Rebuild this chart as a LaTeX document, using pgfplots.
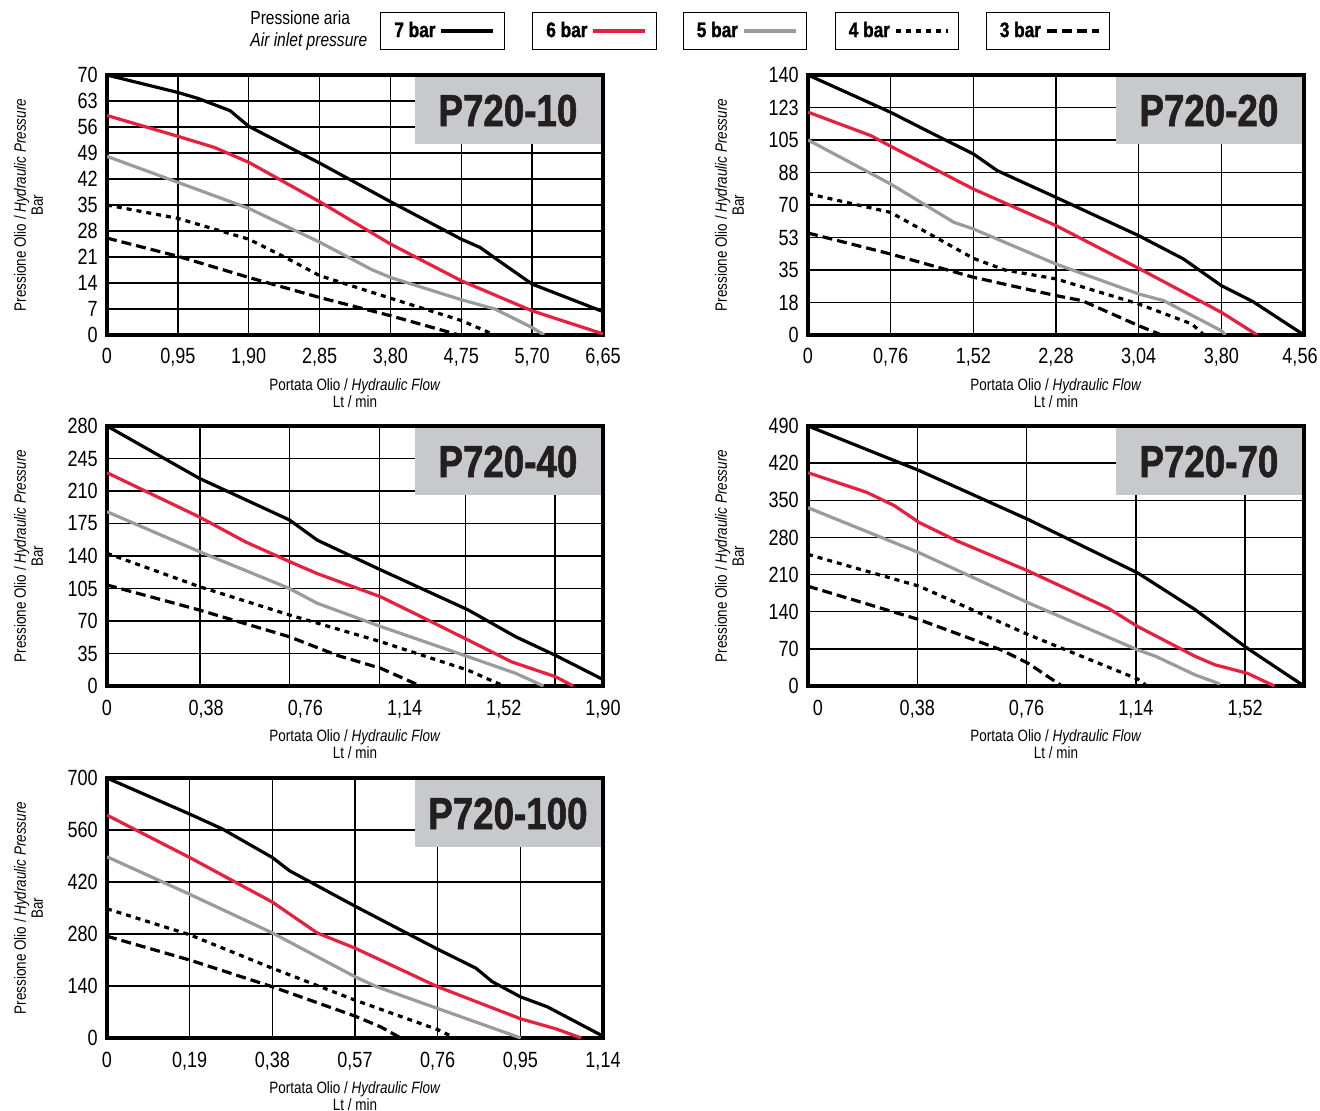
\documentclass[border=0pt]{standalone}
\usepackage{fontspec}
\setmainfont{Liberation Sans}[FakeStretch=0.82]
\newfontfamily\tagfont{Liberation Sans}[FakeStretch=0.82, BoldFeatures={FakeBold=1.3}]
\usepackage{pgfplots}
\pgfplotsset{compat=1.18}

\definecolor{redline}{RGB}{232,32,64}
\definecolor{grayline}{RGB}{155,155,155}
\definecolor{boxgray}{RGB}{200,201,202}
\definecolor{ink}{RGB}{35,31,32}

\tikzset{
  tag/.style={fill=boxgray, text=ink, anchor=north east, minimum width=93pt,
    minimum height=33.5pt, inner sep=0pt, font=\tagfont\bfseries\fontsize{22.4}{24}\selectfont},
}

% 1 px of the reference = 0.5pt
\pgfplotsset{
  s7/.style={black, line width=1.6pt},
  s6/.style={redline, line width=1.6pt},
  s5/.style={grayline, line width=1.6pt},
  s4/.style={black, line width=1.6pt, dash pattern=on 2.5pt off 2.5pt},
  s3/.style={black, line width=1.6pt, dash pattern=on 5pt off 2.5pt},
  pchart/.style={
    scale only axis, width=248pt, height=130pt, anchor=south west,
    xmin=0, ymin=0,
    axis line style={line width=1.7pt},
    grid=major,
    major grid style={black, line width=0.7pt},
    minor grid style={black, line width=0.7pt},
    major tick length=0pt, minor tick length=0pt,
    tick style={draw=none},
    /pgf/number format/assume math mode=true,
    ticklabel style={font=\fontsize{11}{12}\selectfont},
    xticklabel style={anchor=base, yshift=-14.5pt},
    yticklabel style={anchor=east, inner sep=0pt, xshift=-4.5pt},
    every axis x label/.style={at={(axis description cs:0.5,0)}, anchor=center,
      yshift=-29pt, align=center, font=\fontsize{8.2}{7.6}\selectfont},
    every axis y label/.style={at={(axis description cs:0,0.5)}, anchor=center,
      xshift=-39.25pt, rotate=90, align=center, font=\fontsize{8.2}{8.5}\selectfont},
    xlabel={Portata Olio / \textit{Hydraulic Flow}\\Lt / min},
    ylabel={Pressione Olio / \textit{Hydraulic Pressure}\\Bar},
  },
  legbox/.style={hide axis, scale only axis, width=2pt, height=2pt,
    xmin=0, xmax=1, ymin=0, ymax=1, anchor=center,
    legend plot pos=right,
    legend style={at={(0.5,0.5)}, anchor=center, draw=black, line width=0.6pt,
      inner xsep=4.75pt, inner ysep=2.85pt,
      font=\tagfont\bfseries\fontsize{10.5}{12}\selectfont},
  },
}

\begin{document}
\begin{tikzpicture}
\path[use as bounding box] (0,0) rectangle (660pt,-555.5pt);

\node[anchor=west, align=left, inner sep=0pt, font=\fontsize{9.5}{11}\selectfont]
  at (125pt,-15.5pt) {Pressione aria\\\textit{Air inlet pressure}};

\begin{axis}[legbox, at={(221.25pt,-15.5pt)},
  legend image code/.code={\draw[#1] (0pt,0pt) -- (26pt,0pt);}]
\addlegendimage{s7}\addlegendentry{7 bar}
\end{axis}
\begin{axis}[legbox, at={(297.25pt,-15.5pt)},
  legend image code/.code={\draw[#1] (0pt,0pt) -- (26pt,0pt);}]
\addlegendimage{s6}\addlegendentry{6 bar}
\end{axis}
\begin{axis}[legbox, at={(372.5pt,-15.5pt)},
  legend image code/.code={\draw[#1] (0pt,0pt) -- (26pt,0pt);}]
\addlegendimage{s5}\addlegendentry{5 bar}
\end{axis}
\begin{axis}[legbox, at={(448.5pt,-15.5pt)},
  legend image code/.code={\draw[#1] (0pt,0pt) -- (26pt,0pt);}]
\addlegendimage{s4}\addlegendentry{4 bar}
\end{axis}
\begin{axis}[legbox, at={(524pt,-15.5pt)},
  legend image code/.code={\draw[#1] (0pt,0pt) -- (26pt,0pt);}]
\addlegendimage{s3}\addlegendentry{3 bar}
\end{axis}

% P720-10
\begin{axis}[pchart, at={(53.5pt,-167.5pt)},
  xmax=6.65, ymax=70,
  xtick={0,0.95,1.9,2.85,3.8,4.75,5.7,6.65},
  xticklabels={0,{0,95},{1,90},{2,85},{3,80},{4,75},{5,70},{6,65}},
  ytick={0,7,14,21,28,35,42,49,56,63,70}]
\addplot[s7] coordinates {(0,70) (0.95,65.3) (1.22,63.7) (1.65,60.4) (1.90,56.2) (2.85,46.3) (3.80,35.9) (4.75,25.8) (5.0,23.6) (5.28,19.6) (5.70,13.7) (6.65,6.3)};
\addplot[s6] coordinates {(0,59.1) (0.95,53.5) (1.44,50.5) (1.90,46.5) (2.85,35.9) (3.80,24.5) (4.75,14.6) (5.70,6.5) (6.65,0.3)};
\addplot[s5] coordinates {(0,48.1) (0.95,41.1) (1.90,34.1) (2.85,25) (3.55,17.6) (3.80,15.5) (4.75,9.5) (5.2,7) (5.70,2) (5.86,0)};
\addplot[s4] coordinates {(0,35) (0.95,31.4) (1.90,25.8) (2.39,20.9) (2.85,16) (3.80,9.9) (4.75,3.9) (5.2,0)};
\addplot[s3] coordinates {(0,26.1) (0.95,21.2) (1.90,15.5) (2.85,10.1) (3.80,5.2) (4.72,0)};
\node[tag] at ([xshift=-0.85pt,yshift=-0.85pt]rel axis cs:1,1) {P720-10};
\end{axis}

% P720-20
\begin{axis}[pchart, at={(404pt,-167.5pt)},
  xmax=4.56, ymax=140,
  xtick={0,0.76,1.52,2.28,3.04,3.8,4.56},
  xticklabels={0,{0,76},{1,52},{2,28},{3,04},{3,80},{4,56\hspace*{4pt}}},
  ytick={0,17.5,35,52.5,70,87.5,105,122.5,140},
  yticklabels={0,18,35,53,70,88,105,123,140}]
\addplot[s7] coordinates {(0,140) (0.76,119.9) (1.16,108) (1.52,97.5) (1.74,88.5) (2.28,74.1) (3.04,53.5) (3.45,41) (3.80,26.6) (4.09,18) (4.56,0)};
\addplot[s6] coordinates {(0,120) (0.58,107.3) (0.76,101.6) (1.52,78.6) (2.28,58.9) (3.04,35.9) (3.80,12.2) (4.13,0)};
\addplot[s5] coordinates {(0,105) (0.76,81.3) (1.34,60.7) (1.52,57.1) (2.28,38.2) (3.04,22.1) (3.27,18.5) (3.80,2.3) (3.84,0)};
\addplot[s4] coordinates {(0,76.1) (0.76,66) (1.52,41.3) (1.81,35) (2.28,30.2) (3.04,16.7) (3.53,5.9) (3.64,0)};
\addplot[s3] coordinates {(0,54.9) (0.76,43.6) (1.52,31.1) (2.28,21.2) (2.52,18.5) (3.04,5) (3.25,0)};
\node[tag] at ([xshift=-0.85pt,yshift=-0.85pt]rel axis cs:1,1) {P720-20};
\end{axis}

% P720-40
\begin{axis}[pchart, at={(53.5pt,-343pt)},
  xmax=1.9, ymax=280,
  xtick={0,0.38,0.76,1.14,1.52,1.9},
  xticklabels={0,{0,38},{0,76},{1,14},{1,52},{1,90}},
  xmajorgrids=false,
  minor xtick={0.356,0.698,1.043,1.374,1.716},
  xminorgrids=true,
  ytick={0,35,70,105,140,175,210,245,280}]
\addplot[s7] coordinates {(0,280) (0.354,223.6) (0.699,178.8) (0.806,157) (1.049,125) (1.383,82) (1.566,53) (1.718,33) (1.9,7)};
\addplot[s6] coordinates {(0,229.7) (0.354,182) (0.532,155) (0.699,134) (0.806,121) (1.049,96) (1.201,75) (1.383,49.5) (1.55,26) (1.718,10) (1.786,0)};
\addplot[s5] coordinates {(0,187.7) (0.354,144.7) (0.699,105) (0.806,89) (1.049,64) (1.383,31.6) (1.566,13.6) (1.672,0)};
\addplot[s4] coordinates {(0,142.9) (0.354,107) (0.699,76.5) (1.049,47.7) (1.383,17) (1.52,0)};
\addplot[s3] coordinates {(0,108.8) (0.354,81.8) (0.699,53) (0.882,33) (1.049,19) (1.201,0)};
\node[tag] at ([xshift=-0.85pt,yshift=-0.85pt]rel axis cs:1,1) {P720-40};
\end{axis}

% P720-70
\begin{axis}[pchart, at={(404pt,-343pt)},
  xmax=1.725, ymax=490,
  xtick={0,0.38,0.76,1.14,1.52},
  xticklabels={{\hspace*{10pt}0},{0,38},{0,76},{1,14},{1,52}},
  ytick={0,70,140,210,280,350,420,490}]
\addplot[s7] coordinates {(0,490) (0.387,406) (0.765,314) (1.147,213) (1.346,144) (1.528,71) (1.725,0)};
\addplot[s6] coordinates {(0,402) (0.204,365) (0.300,340) (0.387,308) (0.52,273) (0.765,217) (1.043,147) (1.147,112) (1.346,56) (1.415,40) (1.528,24) (1.622,0)};
\addplot[s5] coordinates {(0,336) (0.387,251) (0.765,157) (1.147,68) (1.209,56) (1.346,21) (1.432,4)};
\addplot[s4] coordinates {(0,248) (0.387,188) (0.765,97) (1.147,13) (1.174,2)};
\addplot[s3] coordinates {(0,188) (0.387,125) (0.672,68) (0.765,43) (0.878,2)};
\node[tag] at ([xshift=-0.85pt,yshift=-0.85pt]rel axis cs:1,1) {P720-70};
\end{axis}

% P720-100
\begin{axis}[pchart, at={(53.5pt,-519pt)},
  xmax=1.14, ymax=700,
  xtick={0,0.19,0.38,0.57,0.76,0.95,1.14},
  xticklabels={0,{0,19},{0,38},{0,57},{0,76},{0,95},{1,14}},
  ytick={0,140,280,420,560,700}]
\addplot[s7] coordinates {(0,700) (0.19,603) (0.265,563) (0.38,486) (0.42,450) (0.57,355) (0.76,239) (0.848,188) (0.885,152) (0.95,111) (1.012,84) (1.14,5)};
\addplot[s6] coordinates {(0,600) (0.19,486) (0.38,366) (0.483,283) (0.57,242) (0.76,138) (0.95,52) (1.031,25) (1.09,0)};
\addplot[s5] coordinates {(0,488) (0.19,387) (0.38,283) (0.57,165) (0.62,138) (0.76,79.5) (0.951,0)};
\addplot[s4] coordinates {(0,348) (0.19,278) (0.38,188) (0.57,102) (0.76,22.6) (0.80,0)};
\addplot[s3] coordinates {(0,274) (0.19,210) (0.38,138) (0.57,59) (0.629,30) (0.675,0)};
\node[tag] at ([xshift=-0.85pt,yshift=-0.85pt]rel axis cs:1,1) {P720-100};
\end{axis}
\end{tikzpicture}
\end{document}
